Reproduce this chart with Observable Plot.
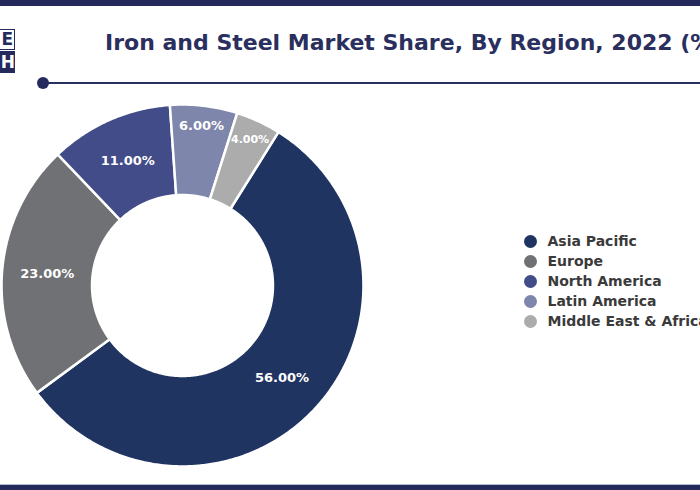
<!DOCTYPE html>
<html>
<head>
<meta charset="utf-8">
<script src="https://cdn.jsdelivr.net/npm/d3@7"></script>
<script src="https://cdn.jsdelivr.net/npm/@observablehq/plot@0.6"></script>
<style>
  html, body { margin: 0; padding: 0; background: #fff; }
  body { width: 700px; height: 490px; position: relative; overflow: hidden; font-family: "DejaVu Sans", sans-serif; }
  #topbar { position: absolute; left: 0; top: 0; width: 700px; height: 6px; background: #242a5b; }
  #bottombar { position: absolute; left: 0; top: 484px; width: 700px; height: 6px; background: #242a5b; border-top: 1px solid #b4bcdc; }
  #logo-top { position: absolute; left: -14px; top: 29px; width: 26px; height: 19px; border: 1.5px solid #242a5b; background: #fff;
              color: #242a5b; font-weight: bold; font-size: 17px; line-height: 19px; text-align: right; padding-right: 1px; box-sizing: content-box; }
  #logo-bottom { position: absolute; left: -14px; top: 51px; width: 29px; height: 22px; background: #242a5b;
              color: #fff; font-weight: bold; font-size: 17px; line-height: 22px; text-align: right; padding-right: 0; }
  #title { position: absolute; left: 105px; top: 30px; font-size: 22px; font-weight: bold; color: #2a2f5e; white-space: nowrap; }
  #rule { position: absolute; left: 43px; top: 82px; width: 700px; height: 1.5px; background: #2a2f5e; }
  #ruledot { position: absolute; left: 37px; top: 77px; width: 12px; height: 12px; border-radius: 50%; background: #242a5b; }
  #donut { position: absolute; left: -8px; top: 95px; }
  #legend { position: absolute; left: 520px; top: 228px; }
</style>
</head>
<body>
<div id="topbar"></div>
<div id="logo-top">E</div>
<div id="logo-bottom">H</div>
<div id="title">Iron and Steel Market Share, By Region, 2022 (%)</div>
<div id="rule"></div>
<div id="ruledot"></div>
<div id="donut"></div>
<div id="legend"></div>
<div id="bottombar"></div>

<script>
// Regional shares of the iron and steel market, 2022 (%)
const regions = ["Asia Pacific", "Europe", "North America", "Latin America", "Middle East & Africa"];
const shares = [56, 23, 11, 6, 4];
const colors = ["#1f3461", "#707174", "#424c88", "#7e86ab", "#acacac"];

// Ring geometry in data units (outer radius = 1)
const innerRadius = 0.5;
const startDeg = 32; // first slice starts this many degrees clockwise from 12 o'clock
// thin slices carry their label nearer the rim, in smaller type
const labelRadius = v => (v < 10 ? 0.89 : 0.75);
const labelSize = v => (v < 5 ? 11 : 13);

const arcs = d3.pie().sort(null)
  .startAngle(startDeg * Math.PI / 180)
  .endAngle(startDeg * Math.PI / 180 + 2 * Math.PI)(shares)
  .map((a, i) => ({...a, region: regions[i]}));

// Outline each slice as a closed polygon: outer arc forward, inner arc back
const step = Math.PI / 360;
const outline = arcs.flatMap(a => {
  const n = Math.max(2, Math.ceil((a.endAngle - a.startAngle) / step));
  const pts = [];
  for (let k = 0; k <= n; k++) {
    const t = a.startAngle + (a.endAngle - a.startAngle) * k / n;
    pts.push({region: a.region, x: Math.sin(t), y: Math.cos(t)});
  }
  for (let k = n; k >= 0; k--) {
    const t = a.startAngle + (a.endAngle - a.startAngle) * k / n;
    pts.push({region: a.region, x: innerRadius * Math.sin(t), y: innerRadius * Math.cos(t)});
  }
  return pts;
});

const mid = a => (a.startAngle + a.endAngle) / 2;
const color = {domain: regions, range: colors};

const donut = Plot.plot({
  width: 380,
  height: 380,
  margin: 0,
  x: {domain: [-1.05, 1.05], axis: null},
  y: {domain: [-1.05, 1.05], axis: null},
  color,
  marks: [
    Plot.line(outline, {
      x: "x", y: "y", z: "region", fill: "region",
      stroke: "white", strokeWidth: 2.5, strokeLinejoin: "round", curve: "linear-closed"
    }),
    Plot.text(arcs, {
      x: a => labelRadius(a.value) * Math.sin(mid(a)),
      y: a => labelRadius(a.value) * Math.cos(mid(a)),
      text: a => a.value.toFixed(2) + "%",
      fill: "white", fontWeight: "bold", fontSize: a => labelSize(a.value),
      fontFamily: "DejaVu Sans, sans-serif"
    })
  ]
});
document.getElementById("donut").appendChild(donut);

const legend = Plot.plot({
  width: 180,
  height: 110,
  margin: 0,
  y: {type: "point", domain: regions, range: [12, 94], padding: 0, axis: null},
  color,
  marks: [
    Plot.dot(regions, {y: d => d, fill: d => d, r: 6.5, frameAnchor: "left", dx: 10}),
    Plot.text(regions, {
      y: d => d, text: d => d, frameAnchor: "left", dx: 27, textAnchor: "start",
      fill: "#3a3a3a", fontWeight: "bold", fontSize: 14, fontFamily: "DejaVu Sans, sans-serif"
    })
  ]
});
legend.style.overflow = "visible";
document.getElementById("legend").appendChild(legend);
</script>
</body>
</html>
